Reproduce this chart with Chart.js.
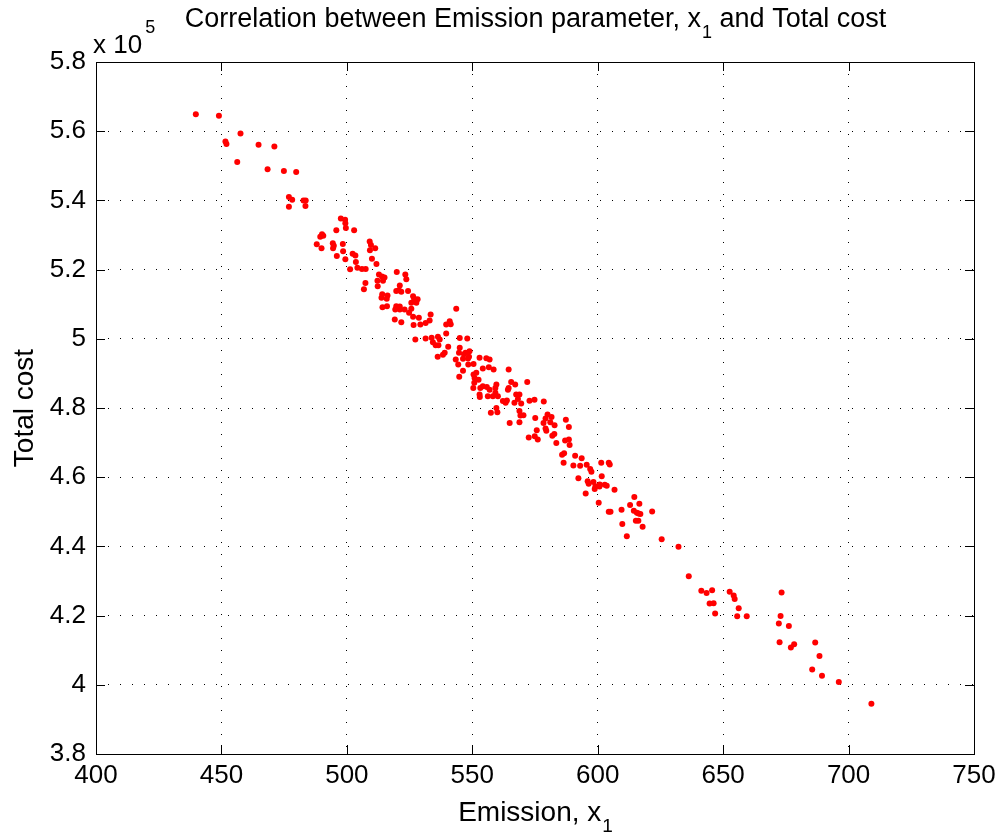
<!DOCTYPE html>
<html>
<head>
<meta charset="utf-8">
<script src="https://cdn.jsdelivr.net/npm/chart.js@4.4.0/dist/chart.umd.min.js"></script>
<style>
html,body{margin:0;padding:0;background:#fff;}
#wrap{width:1004px;height:837px;}
</style>
</head>
<body>
<div id="wrap"><canvas id="c" width="1004" height="837"></canvas></div>
<script>
const emission = [
439.8,449.0,457.6,451.6,452.0,464.8,471.1,456.3,468.4,474.9,479.8,476.9,478.2,476.9,482.7,483.6,483.5,
497.6,499.3,499.4,499.6,495.8,502.9,490.1,490.6,489.4,494.4,494.8,494.5,498.4,488.0,489.9,498.5,496.0,499.4,
502.3,503.4,503.6,501.3,504.2,506.0,507.5,509.1,509.6,511.3,509.2,510.0,511.8,
512.8,514.0,515.0,514.4,512.2,519.9,523.3,523.7,507.4,506.8,512.3,521.1,520.7,519.7,521.7,524.4,514.1,516.2,
513.8,515.9,526.4,526.8,528.2,527.7,525.7,519.7,521.1,519.3,521.1,514.2,516.0,523.0,525.7,524.8,543.6,533.4,
528.7,526.4,519.1,521.7,526.6,529.3,531.4,533.0,541.0,539.6,541.4,527.3,531.4,533.8,536.3,539.6,537.0,534.3,
535.4,536.5,540.4,536.2,538.3,539.0,545.0,548.0,545.0,544.7,546.7,547.3,548.7,548.9,546.3,543.4,544.4,546.3,
544.8,548.4,550.5,548.3,552.9,555.6,556.9,554.2,556.6,558.5,564.5,550.5,551.6,550.9,552.5,550.8,550.4,553.2,
554.2,555.8,556.9,559.2,559.6,559.2,560.2,558.2,552.9,556.2,553.0,564.5,565.5,567.1,571.9,564.2,567.5,568.2,
566.8,563.8,562.2,563.3,559.6,568.8,569.5,572.8,574.8,578.5,557.4,560.0,564.9,
568.8,569.2,568.8,570.4,575.1,575.7,572.5,574.9,576.1,580.0,579.2,578.4,581.6,581.1,582.8,579.2,579.5,581.9,
582.7,587.3,588.5,583.5,587.0,588.5,588.8,585.8,586.6,586.4,591.0,593.6,590.3,593.0,595.6,597.0,597.5,601.4,
604.4,604.8,601.6,592.3,596.0,596.4,598.3,600.8,600.7,598.8,599.1,602.8,603.6,606.7,595.2,600.4,614.6,612.9,
616.6,614.4,615.6,616.3,617.0,621.7,609.5,604.4,605.1,615.2,616.2,617.9,609.8,611.6,625.5,
632.2,636.3,641.3,643.4,645.6,644.6,646.2,646.8,652.6,654.2,654.6,656.2,655.6,659.4,673.3,672.9,672.2,676.2,
672.5,677.0,678.3,686.7,688.4,685.5,689.4,696.1,709.1
];
const totalCost = [
5.649,5.645,5.593,5.570,5.563,5.561,5.556,5.511,5.490,5.485,5.482,5.410,5.402,5.382,5.400,5.400,5.384,
5.348,5.344,5.334,5.320,5.314,5.314,5.302,5.298,5.295,5.276,5.269,5.262,5.274,5.273,5.262,5.253,5.239,5.230,
5.246,5.241,5.222,5.201,5.205,5.202,5.202,5.281,5.271,5.262,5.256,5.231,5.216,
5.186,5.180,5.177,5.168,5.168,5.193,5.186,5.172,5.161,5.143,5.152,5.154,5.140,5.138,5.136,5.138,5.129,5.125,
5.119,5.116,5.123,5.116,5.114,5.104,5.104,5.094,5.093,5.085,5.085,5.091,5.094,5.085,5.087,5.075,5.087,5.070,
5.061,5.064,5.056,5.048,5.040,5.041,5.046,5.053,5.051,5.041,5.042,4.998,5.001,5.003,5.006,5.015,4.998,4.990,
4.981,4.981,4.977,4.948,4.954,4.960,5.002,5.001,4.974,4.960,4.955,4.960,4.948,4.964,4.942,4.940,4.926,4.908,
4.890,4.926,4.927,4.943,4.945,4.944,4.940,4.914,4.918,4.911,4.911,4.897,4.902,4.887,4.882,4.873,4.858,4.858,
4.863,4.861,4.853,4.858,4.868,4.844,4.834,4.834,4.839,4.834,4.832,4.858,4.875,4.868,4.875,4.853,4.839,4.826,
4.815,4.822,4.820,4.815,4.800,4.839,4.813,4.821,4.824,4.819,4.786,4.788,4.757,
4.791,4.778,4.759,4.779,4.771,4.736,4.715,4.718,4.709,4.781,4.770,4.757,4.774,4.759,4.750,4.741,4.734,4.720,
4.725,4.766,4.745,4.699,4.706,4.709,4.693,4.665,4.669,4.642,4.662,4.655,4.634,4.633,4.636,4.624,4.616,4.642,
4.642,4.637,4.603,4.597,4.588,4.581,4.586,4.579,4.573,4.566,4.574,4.578,4.575,4.564,4.553,4.526,4.543,4.520,
4.523,4.503,4.497,4.495,4.494,4.501,4.506,4.500,4.500,4.474,4.474,4.457,4.465,4.429,4.421,
4.399,4.314,4.272,4.265,4.273,4.235,4.236,4.206,4.269,4.258,4.248,4.221,4.198,4.198,4.267,4.199,4.177,4.170,
4.123,4.108,4.117,4.122,4.083,4.044,4.026,4.008,3.945
];
const xTickValues = [400,450,500,550,600,650,700,750];
const yTickValues = [3.8,4.0,4.2,4.4,4.6,4.8,5.0,5.2,5.4,5.6,5.8];
const titleMain = "Correlation between Emission parameter, x";
const titleSub = "1";
const titleTail = " and Total cost";
const xLabelMain = "Emission, x";
const xLabelSub = "1";
const yLabel = "Total cost";
const expBase = "x 10";
const expSup = "5";

const FONT = "'Liberation Sans', Arial, Helvetica, sans-serif";
const TICK_FS = 26;
const TITLE_FS = 27;
const LABEL_FS = 28;

const points = emission.map((x, i) => ({x: x, y: totalCost[i]}));

const decor = {
  id: 'decor',
  beforeDatasetsDraw(chart) {
    const ctx = chart.ctx, a = chart.chartArea;
    const xs = chart.scales.x, ys = chart.scales.y;
    ctx.save();
    ctx.strokeStyle = '#000';
    ctx.lineWidth = 1;
    ctx.setLineDash([]);
    ctx.strokeRect(Math.round(a.left) + 0.5, Math.round(a.top) + 0.5, Math.round(a.right - a.left), Math.round(a.bottom - a.top));
    const tl = 9;
    ctx.beginPath();
    xTickValues.forEach(v => {
      const p = Math.round(xs.getPixelForValue(v)) + 0.5;
      ctx.moveTo(p, a.bottom); ctx.lineTo(p, a.bottom - tl);
      ctx.moveTo(p, a.top); ctx.lineTo(p, a.top + tl);
    });
    yTickValues.forEach(v => {
      const p = Math.round(ys.getPixelForValue(v)) + 0.5;
      ctx.moveTo(a.left, p); ctx.lineTo(a.left + tl, p);
      ctx.moveTo(a.right, p); ctx.lineTo(a.right - tl, p);
    });
    ctx.stroke();
    ctx.restore();
  },
  afterDraw(chart) {
    const ctx = chart.ctx, a = chart.chartArea;
    const cx = (a.left + a.right) / 2;
    ctx.save();
    ctx.fillStyle = '#000';
    ctx.textBaseline = 'alphabetic';
    ctx.textAlign = 'left';
    function subText(parts, centerX, baseY, fs) {
      const big = fs + 'px ' + FONT;
      const small = Math.round(fs * 0.68) + 'px ' + FONT;
      let w = 0;
      parts.forEach(p => { ctx.font = p.sub ? small : big; w += ctx.measureText(p.t).width; });
      let x = centerX - w / 2;
      parts.forEach(p => {
        ctx.font = p.sub ? small : big;
        const dy = p.sub ? Math.round(fs * 0.4) : 0;
        ctx.fillText(p.t, x + (p.sub ? 1 : 0), baseY + dy);
        x += ctx.measureText(p.t).width + (p.sub ? 1 : 0);
      });
    }
    subText([{t: titleMain}, {t: titleSub, sub: true}, {t: titleTail}], cx, 27, TITLE_FS);
    subText([{t: xLabelMain}, {t: xLabelSub, sub: true}], cx, 821, LABEL_FS);
    // exponent label
    ctx.font = TICK_FS + 'px ' + FONT;
    ctx.fillText(expBase, a.left - 3, 53);
    const w = ctx.measureText(expBase).width;
    ctx.font = Math.round(TICK_FS * 0.68) + 'px ' + FONT;
    ctx.fillText(expSup, a.left - 3 + w + 3, 33);
    // y label
    ctx.font = LABEL_FS + 'px ' + FONT;
    ctx.translate(33, (a.top + a.bottom) / 2);
    ctx.rotate(-Math.PI / 2);
    ctx.textAlign = 'center';
    ctx.fillText(yLabel, 0, 0);
    ctx.restore();
  }
};

new Chart(document.getElementById('c'), {
  type: 'scatter',
  data: {
    datasets: [{
      data: points,
      backgroundColor: '#ff0000',
      borderWidth: 0,
      pointRadius: 3,
      pointHoverRadius: 3
    }]
  },
  options: {
    responsive: false,
    animation: false,
    devicePixelRatio: 1,
    layout: {padding: {left: 0, right: 30, top: 62, bottom: 0}},
    plugins: {legend: {display: false}, tooltip: {enabled: false}, title: {display: false}},
    scales: {
      x: {
        type: 'linear', min: 400, max: 750,
        afterBuildTicks: s => { s.ticks = xTickValues.map(v => ({value: v})); },
        afterFit: s => { s.height = 83; },
        ticks: {color: '#000', font: {family: FONT, size: TICK_FS}, padding: 6, maxRotation: 0, autoSkip: false,
                callback: v => String(v)},
        grid: {color: '#000', lineWidth: 1, drawTicks: false},
        border: {display: false, dash: [1, 11]}
      },
      y: {
        type: 'linear', min: 3.8, max: 5.8,
        afterBuildTicks: s => { s.ticks = yTickValues.map(v => ({value: v})); },
        afterFit: s => { s.width = 96; },
        ticks: {color: '#000', font: {family: FONT, size: TICK_FS}, padding: 10, autoSkip: false,
                callback: v => String(+(+v).toFixed(1))},
        grid: {color: '#000', lineWidth: 1, drawTicks: false},
        border: {display: false, dash: [1, 11]}
      }
    }
  },
  plugins: [decor]
});
</script>
</body>
</html>
